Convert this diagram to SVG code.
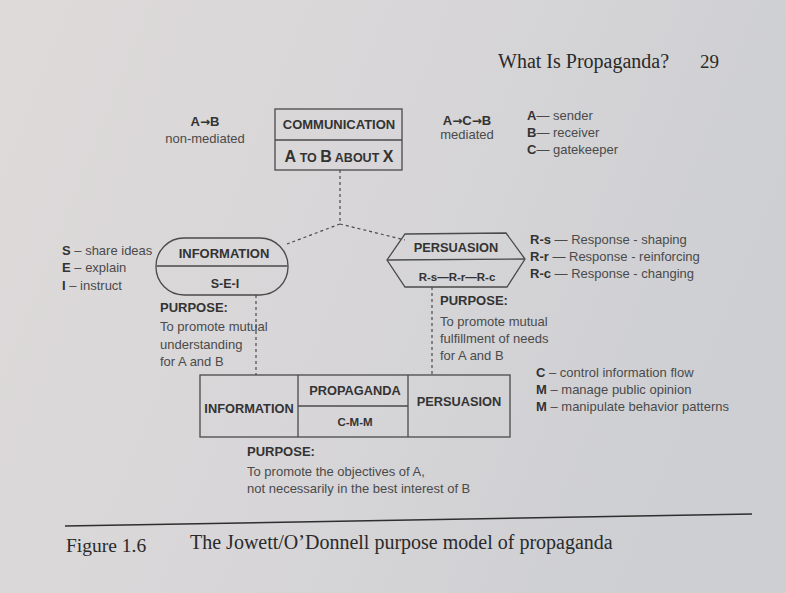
<svg xmlns="http://www.w3.org/2000/svg" width="786" height="593" viewBox="0 0 786 593">
<defs>
<linearGradient id="paper" x1="0" y1="0" x2="1" y2="0.3">
<stop offset="0" stop-color="#dedada"/>
<stop offset="0.5" stop-color="#d8d6d8"/>
<stop offset="1" stop-color="#cecfd3"/>
</linearGradient>
<style>
.box{fill:none;stroke:#4a4a4a;stroke-width:1.3}
.conn{fill:none;stroke:#4a4a4a;stroke-width:1.2;stroke-dasharray:3 3}
.hd{font-family:"Liberation Sans",Arial,sans-serif;font-weight:bold;fill:#333;text-anchor:middle}
.lb{font-family:"Liberation Sans",Arial,sans-serif;font-size:13px;fill:#4a4a4a}
.lbb{font-weight:bold;fill:#333}
.arr{font-family:"DejaVu Sans",sans-serif;font-weight:bold;font-size:12px;fill:#333}
.ct{text-anchor:middle}
.serif{font-family:"Liberation Serif","Times New Roman",serif;fill:#2a2a2a}
</style>
</defs>
<rect x="0" y="0" width="786" height="593" fill="url(#paper)"/>

<g id="header">
<text class="serif" x="498" y="68" font-size="20">What Is Propaganda?</text>
<text class="serif" x="700" y="68" font-size="19">29</text>
</g>

<g id="connectors">
<path class="conn" d="M340,170 V224"/>
<path class="conn" d="M340,224 L287,244"/>
<path class="conn" d="M340,224 L405,240"/>
<path class="conn" d="M256,295 V375"/>
<path class="conn" d="M432,287 V375"/>
</g>

<g id="communication">
<rect class="box" x="275" y="109" width="127" height="61"/>
<line class="box" x1="275" y1="140" x2="402" y2="140"/>
<text class="hd" x="339" y="129" font-size="13">COMMUNICATION</text>
<text class="hd" x="339" y="162" font-size="16"><tspan>A</tspan><tspan font-size="12.5"> TO </tspan><tspan>B</tspan><tspan font-size="12.5"> ABOUT </tspan><tspan>X</tspan></text>
</g>

<g id="information">
<rect class="box" x="156" y="238" width="132" height="57" rx="28" ry="28"/>
<line class="box" x1="156.5" y1="266" x2="287.5" y2="266"/>
<text class="hd" x="224" y="258" font-size="13">INFORMATION</text>
<text class="hd" x="225" y="288" font-size="12.5">S-E-I</text>
</g>

<g id="persuasion">
<polygon class="box" points="405,234 506,233 525,259 507,287 405,287 387,260"/>
<line class="box" x1="387" y1="260" x2="525" y2="259"/>
<text class="hd" x="456" y="252" font-size="12.8">PERSUASION</text>
<text class="hd" x="457" y="281" font-size="11.5">R-s—R-r—R-c</text>
</g>

<g id="propaganda-model">
<rect class="box" x="200" y="375" width="310" height="62"/>
<line class="box" x1="298" y1="375" x2="298" y2="437"/>
<line class="box" x1="408" y1="375" x2="408" y2="437"/>
<line class="box" x1="298" y1="406" x2="408" y2="406"/>
<text class="hd" x="249" y="413" font-size="12.8">INFORMATION</text>
<text class="hd" x="355" y="395" font-size="12.8">PROPAGANDA</text>
<text class="hd" x="355" y="426" font-size="11.5">C-M-M</text>
<text class="hd" x="459" y="406" font-size="12.8">PERSUASION</text>
</g>

<g id="labels-top">
<text class="lb ct" x="205" y="126"><tspan class="lbb">A</tspan><tspan class="arr">→</tspan><tspan class="lbb">B</tspan></text>
<text class="lb ct" x="205" y="143">non-mediated</text>
<text class="lb ct" x="467" y="125"><tspan class="lbb">A</tspan><tspan class="arr">→</tspan><tspan class="lbb">C</tspan><tspan class="arr">→</tspan><tspan class="lbb">B</tspan></text>
<text class="lb ct" x="467" y="139">mediated</text>
<text class="lb" x="527" y="120"><tspan class="lbb">A</tspan>— sender</text>
<text class="lb" x="527" y="137"><tspan class="lbb">B</tspan>— receiver</text>
<text class="lb" x="527" y="154"><tspan class="lbb">C</tspan>— gatekeeper</text>
</g>

<g id="labels-information">
<text class="lb" x="62" y="255"><tspan class="lbb">S</tspan> – share ideas</text>
<text class="lb" x="62" y="272"><tspan class="lbb">E</tspan> – explain</text>
<text class="lb" x="62" y="290"><tspan class="lbb">I</tspan> – instruct</text>
<text class="lb lbb" x="160" y="312">PURPOSE:</text>
<text class="lb" x="160" y="331">To promote mutual</text>
<text class="lb" x="160" y="349">understanding</text>
<text class="lb" x="160" y="366">for A and B</text>
</g>

<g id="labels-persuasion">
<text class="lb" x="530" y="244"><tspan class="lbb">R-s</tspan> — Response - shaping</text>
<text class="lb" x="530" y="261"><tspan class="lbb">R-r</tspan> — Response - reinforcing</text>
<text class="lb" x="530" y="278"><tspan class="lbb">R-c</tspan> — Response - changing</text>
<text class="lb lbb" x="440" y="305">PURPOSE:</text>
<text class="lb" x="440" y="326">To promote mutual</text>
<text class="lb" x="440" y="343">fulfillment of needs</text>
<text class="lb" x="440" y="360">for A and B</text>
</g>

<g id="labels-propaganda">
<text class="lb" x="536" y="377"><tspan class="lbb">C</tspan> – control information flow</text>
<text class="lb" x="536" y="394"><tspan class="lbb">M</tspan> – manage public opinion</text>
<text class="lb" x="536" y="411"><tspan class="lbb">M</tspan> – manipulate behavior patterns</text>
<text class="lb lbb" x="247" y="456">PURPOSE:</text>
<text class="lb" x="247" y="476">To promote the objectives of A,</text>
<text class="lb" x="247" y="493">not necessarily in the best interest of B</text>
</g>

<g id="caption">
<line x1="65" y1="526" x2="752" y2="514" stroke="#2e2e2e" stroke-width="1.5"/>
<text class="serif" x="66" y="552" font-size="19.5">Figure 1.6</text>
<text class="serif" x="190" y="549" font-size="20">The Jowett/O’Donnell purpose model of propaganda</text>
</g>
</svg>
